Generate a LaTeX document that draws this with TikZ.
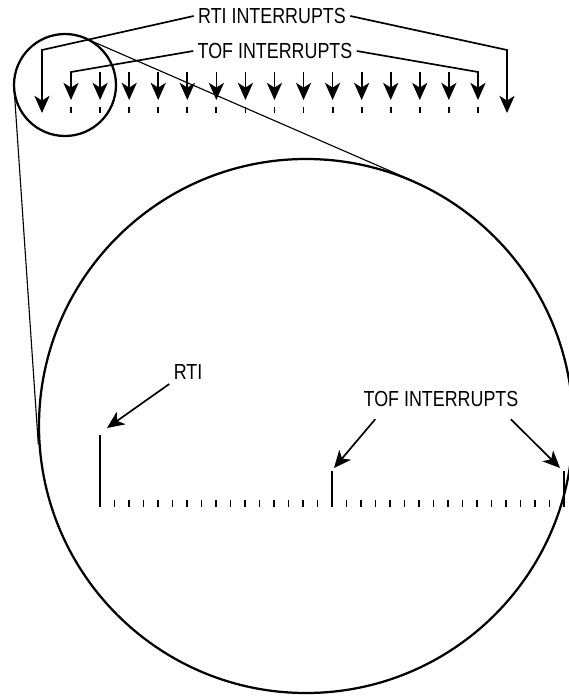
\documentclass[tikz,border=0pt]{standalone}
\usepackage{fontspec}
\setmainfont{Liberation Sans}[FakeStretch=0.82]
\usetikzlibrary{arrows.meta}

\tikzset{
  intarrow/.style={-{Stealth[length=4.3mm,width=3.8mm,inset=1.2mm]}, line width=1.2pt},
  lbl/.style={font=\fontsize{15.5}{17}\selectfont, inner sep=3pt},
  tickmark/.style={line width=1.3pt},
  lens/.style={line width=1.6pt},
}

\begin{document}
\begin{tikzpicture}[x=0.025cm, y=-0.025cm]
    \useasboundingbox (0,0) rectangle (569,696);
    % top row of interrupts
    \node[lbl] (rtitop) at (272,16) {RTI INTERRUPTS};
    \node[lbl] (toftop) at (275,51) {TOF INTERRUPTS};
    \coordinate (rtiL) at (42,50);
    \coordinate (rtiLend) at (42,113);
    \coordinate (rtiR) at (507,50);
    \coordinate (rtiRend) at (507,113);
    \coordinate (tofL) at (71,72);
    \coordinate (tofLend) at (71,100);
    \coordinate (tofR) at (478,72);
    \coordinate (tofRend) at (478,100);
    \draw[intarrow] (rtitop.west) -- (rtiL) -- (rtiLend);
    \draw[intarrow] (rtitop.east) -- (rtiR) -- (rtiRend);
    \draw[intarrow] (toftop.west) -- (tofL) -- (tofLend);
    \draw[intarrow] (toftop.east) -- (tofR) -- (tofRend);
    \foreach \k in {2,...,14} {
        \coordinate (a\k) at ({42+29.06*\k},72);
        \coordinate (b\k) at ({42+29.06*\k},100);
        \draw[intarrow] (a\k) -- (b\k);
    }
    \foreach \k in {1,...,15} {
        \draw[tickmark] ({42+29.06*\k},107) -- ++(0,6);
    }
    % magnifier
    \coordinate (zc) at (65,85);
    \coordinate (bc) at (306,426);
    \draw[lens] (zc) circle [radius=51];
    \draw[lens] (bc) circle [radius=267];
    \coordinate (t1) at (14.1,88.5);
    \coordinate (t2) at (38.3,444.3);
    \coordinate (t3) at (85.3,38.3);
    \coordinate (t4) at (412.7,180.8);
    \draw[line width=0.8pt] (t1) -- (t2);
    \draw[line width=0.8pt] (t3) -- (t4);
    % enlarged time line
    \foreach \k in {1,...,31} {
        \ifnum\k=16\else
            \draw[tickmark] ({100+14.5*\k},500) -- ++(0,7);
        \fi
    }
    \coordinate (r0) at (100,435);
    \coordinate (r1) at (332,471);
    \coordinate (r2) at (564,471);
    \draw[line width=1pt] (r0) -- (100,507);
    \draw[line width=1pt] (r1) -- (332,507);
    \draw[line width=1pt] (r2) -- (564,507);
    \node[lbl] (rtilow) at (188,372) {RTI};
    \node[lbl] (toflow) at (441,399) {TOF INTERRUPTS};
    \coordinate (rtiend) at (107,428);
    \coordinate (tofend1) at (334,468);
    \coordinate (tofend2) at (560,468);
    \draw[intarrow] (rtilow.south west) -- (rtiend);
    \draw[intarrow] ([xshift=0.4cm,yshift=-0.2cm]toflow.south west) -- (tofend1);
    \draw[intarrow] ([xshift=-0.3cm,yshift=-0.2cm]toflow.south east) -- (tofend2);
\end{tikzpicture}
\end{document}
